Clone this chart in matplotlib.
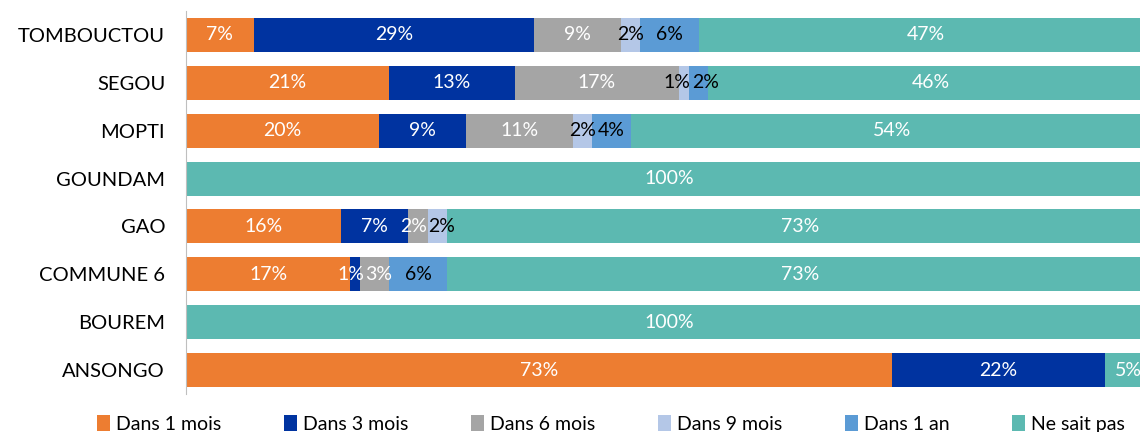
import numpy as np
import matplotlib.pyplot as plt

plt.rcParams['font.family'] = ['Lato', 'DejaVu Sans']

regions = ['TOMBOUCTOU', 'SEGOU', 'MOPTI', 'GOUNDAM', 'GAO', 'COMMUNE 6', 'BOUREM', 'ANSONGO']
series = ['Dans 1 mois', 'Dans 3 mois', 'Dans 6 mois', 'Dans 9 mois', 'Dans 1 an', 'Ne sait pas']

dans_1_mois = [7, 21, 20, 0, 16, 17, 0, 73]
dans_3_mois = [29, 13, 9, 0, 7, 1, 0, 22]
dans_6_mois = [9, 17, 11, 0, 2, 3, 0, 0]
dans_9_mois = [2, 1, 2, 0, 2, 0, 0, 0]
dans_1_an = [6, 2, 4, 0, 0, 6, 0, 0]
ne_sait_pas = [47, 46, 54, 100, 73, 73, 100, 5]

colors = ['#ED7D31', '#0033A0', '#A5A5A5', '#B4C7E7', '#5B9BD5', '#5CB9B1']
text_colors = ['white', 'white', 'white', 'black', 'black', 'white']

values = np.array([dans_1_mois, dans_3_mois, dans_6_mois, dans_9_mois, dans_1_an, ne_sait_pas]) / 100.0

fig = plt.figure(figsize=(11.4, 4.32), dpi=100)
ax = fig.add_axes([186 / 1140, 1 - 394 / 432, 967 / 1140, 383 / 432])

y = np.arange(len(regions))
left = np.zeros(len(regions))
labels = [[] for _ in regions]
for i, name in enumerate(series):
    ax.barh(y, values[i], left=left, height=0.71, color=colors[i], label=name)
    for j, v in enumerate(values[i]):
        if v > 0:
            labels[j].append([left[j] + v / 2, '%d%%' % round(v * 100), text_colors[i]])
    left += values[i]

# push apart labels of thin segments so they don't sit on top of each other
gap = 0.029
for row in labels:
    for _ in range(10):
        for k in range(1, len(row)):
            d = row[k][0] - row[k - 1][0]
            if d < gap:
                shift = (gap - d) / 2
                row[k - 1][0] -= shift
                row[k][0] += shift

for j, row in enumerate(labels):
    for xc, txt, tc in row:
        ax.text(xc, y[j], txt, ha='center', va='center', color=tc, fontsize=14)

ax.set_xlim(0, 1)
ax.set_ylim(len(regions) - 0.5, -0.5)
ax.set_yticks(y)
ax.set_yticklabels(regions, fontsize=14.5)
ax.tick_params(axis='y', length=0, pad=15)
ax.set_xticks([])
for s in ['top', 'right', 'bottom']:
    ax.spines[s].set_visible(False)
ax.spines['left'].set_color('#BFBFBF')

fig.legend(loc='center', bbox_to_anchor=(611 / 1140, 1 - 424 / 432), ncol=6, frameon=False,
           fontsize=14, handlelength=0.7, handleheight=0.9, handletextpad=0.3, columnspacing=3.2)

fig.savefig('out.png', dpi=100)
